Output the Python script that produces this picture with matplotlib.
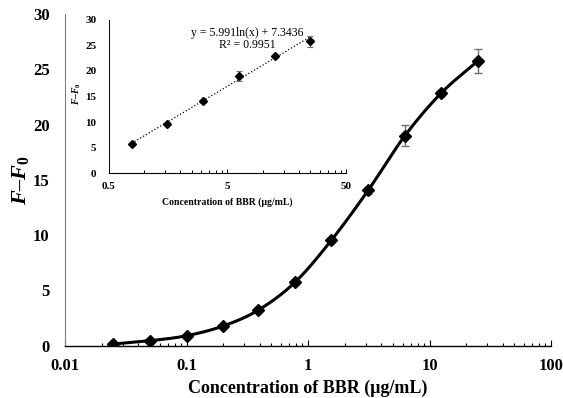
import numpy as np
import matplotlib
matplotlib.use("Agg")
import matplotlib.pyplot as plt
from matplotlib.ticker import FixedLocator, NullFormatter

plt.rcParams['font.family'] = ['Liberation Serif', 'DejaVu Serif']
plt.rcParams['mathtext.fontset'] = 'custom'
plt.rcParams['mathtext.it'] = 'Liberation Serif:italic:bold'
plt.rcParams['mathtext.rm'] = 'Liberation Serif:bold'

# concentration (ug/mL) and response
conc = [0.025, 0.05, 0.1, 0.2, 0.39, 0.78, 1.56, 3.125, 6.25, 12.5, 25]
resp = [0.15, 0.45, 0.9, 1.78, 3.22, 5.73, 9.55, 14.05, 18.97, 22.86, 25.75]
err = [0.05, 0.05, 0.1, 0.1, 0.15, 0.2, 0.2, 0.3, 0.95, 0.3, 1.07]

# linear range used in the inset
lin_conc = conc[5:]
lin_resp = resp[5:]
lin_err = err[5:]
slope, intercept = 5.991, 7.3436
r2 = 0.9951


def smooth(xs, ys, n=30):
    # catmull-rom through the points in (log x, y), like excel's smoothed line
    lx = np.log10(xs)
    ys = np.asarray(ys, float)
    px = np.concatenate([[2*lx[0]-lx[1]], lx, [2*lx[-1]-lx[-2]]])
    py = np.concatenate([[2*ys[0]-ys[1]], ys, [2*ys[-1]-ys[-2]]])
    ox, oy = [], []
    t = np.linspace(0, 1, n)
    for i in range(1, len(px)-2):
        for p, o in ((px, ox), (py, oy)):
            p0, p1, p2, p3 = p[i-1], p[i], p[i+1], p[i+2]
            o.extend(0.5*((2*p1) + (-p0+p2)*t + (2*p0-5*p1+4*p2-p3)*t**2
                          + (-p0+3*p1-3*p2+p3)*t**3))
    return 10**np.array(ox), np.array(oy)


ylab = "$F$–$F_{\\mathit{0}}$"

fig = plt.figure(figsize=(5.63, 3.98), dpi=100)
ax = fig.add_axes([0.1155, 0.1314, 0.8632, 0.8334])

sx, sy = smooth(conc, resp)
ax.plot(sx, sy, color="black", lw=2.2, zorder=2)
ax.errorbar(conc, resp, yerr=err, fmt="none", ecolor="#707070", elinewidth=1,
            capsize=3, capthick=1, zorder=1)
ax.plot(conc, resp, "D", color="black", ms=6.5, zorder=3)

ax.set_xscale("log")
ax.set_xlim(0.01, 100)
ax.set_ylim(0, 30)
ax.set_yticks(range(0, 31, 5))
ax.xaxis.set_major_locator(FixedLocator([0.01, 0.1, 1, 10, 100]))
ax.set_xticklabels(["0.01", "0.1", "1", "10", "100"])
ax.xaxis.set_minor_locator(FixedLocator([d*k for d in (0.01, 0.1, 1, 10) for k in range(2, 10)]))
ax.xaxis.set_minor_formatter(NullFormatter())
ax.tick_params(axis="x", which="major", direction="in", length=4, width=0.8, pad=9)
ax.tick_params(axis="x", which="minor", direction="in", length=2.5, width=0.8)
ax.tick_params(axis="y", length=0, pad=11)
for lab in ax.get_xticklabels() + ax.get_yticklabels():
    lab.set_fontsize(12)
    lab.set_fontweight("bold")
ax.spines["top"].set_visible(False)
ax.spines["right"].set_visible(False)
ax.spines["left"].set_color("#808080")
ax.spines["bottom"].set_linewidth(1)
ax.set_xlabel("Concentration of BBR (μg/mL)", fontsize=13, fontweight="bold", va="center")
ax.xaxis.set_label_coords(0.5, -0.128)
ax.set_ylabel(ylab, fontsize=16, fontweight="bold", fontstyle="italic", va="center")
ax.yaxis.set_label_coords(-0.092, 0.5)

# inset: linear range
ins = fig.add_axes([0.1931, 0.5646, 0.4215, 0.3864])
xs = np.array([lin_conc[0], lin_conc[-1]])
xt = np.logspace(np.log10(xs[0]), np.log10(xs[1]), 50)
ins.plot(xt, slope*np.log(xt) + intercept, ":", color="black", lw=0.9, zorder=1)
ins.errorbar(lin_conc, lin_resp, yerr=lin_err, fmt="none", ecolor="#707070",
             elinewidth=0.8, capsize=2, capthick=0.8, zorder=2)
ins.plot(lin_conc, lin_resp, "D", color="black", ms=4, zorder=3)
ins.set_xscale("log")
ins.set_xlim(0.5, 50)
ins.set_ylim(0, 30)
ins.set_yticks(range(0, 31, 5))
ins.xaxis.set_major_locator(FixedLocator([0.5, 5, 50]))
ins.set_xticklabels(["0.5", "5", "50"])
ins.xaxis.set_minor_locator(FixedLocator([d*k for d in (0.5, 5) for k in range(2, 10)]))
ins.xaxis.set_minor_formatter(NullFormatter())
ins.tick_params(axis="x", which="major", direction="in", length=3, width=0.7, pad=6)
ins.tick_params(axis="x", which="minor", direction="in", length=2, width=0.7)
ins.tick_params(axis="y", length=0, pad=9)
for lab in ins.get_xticklabels() + ins.get_yticklabels():
    lab.set_fontsize(8)
    lab.set_fontweight("bold")
ins.spines["top"].set_visible(False)
ins.spines["right"].set_visible(False)
ins.spines["left"].set_linewidth(0.7)
ins.spines["bottom"].set_linewidth(0.8)
ins.set_xlabel("Concentration of BBR (μg/mL)", fontsize=7, fontweight="bold", labelpad=5)
ins.set_ylabel(ylab, fontsize=7, fontweight="bold", fontstyle="italic", va="center")
ins.yaxis.set_label_coords(-0.134, 0.52)
ins.text(0.583, 0.95, "y = 5.991ln(x) + 7.3436\nR² = 0.9951", transform=ins.transAxes,
         ha="center", va="top", fontsize=8.5, linespacing=1.0)

fig.savefig("out.png", dpi=100)
